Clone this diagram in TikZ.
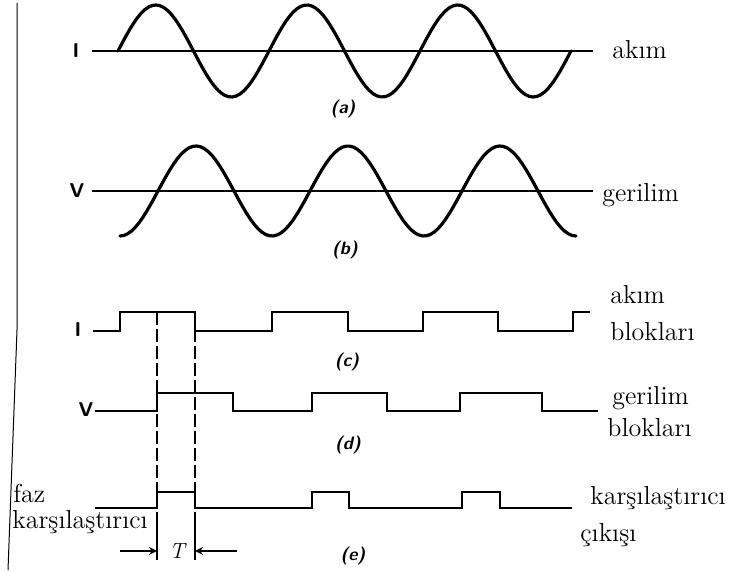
\documentclass[tikz,border=0pt]{standalone}
\usepackage{fontspec}
\tikzset{
  wave/.style={line width=1.6pt, line cap=round},
  pulse/.style={line width=1.1pt, line join=miter},
  axisline/.style={line width=0.9pt},
  guide/.style={line width=0.9pt, dash pattern=on 6.5pt off 2pt},
  lbl/.style={anchor=west, inner sep=0pt, font=\fontsize{13}{14}\selectfont},
  sig/.style={inner sep=0pt, font=\fontsize{10}{11}\sffamily\bfseries},
  panel/.style={inner sep=0pt, font=\fontsize{9}{10}\sffamily\bfseries\itshape}
}
\begin{document}
\begin{tikzpicture}[x=0.5pt, y=-0.5pt, >=stealth]
    \useasboundingbox (0,0) rectangle (735,572);
    % page edge
    \draw[line width=0.5pt] (17,3) -- (17,330) -- (8,570);

    % (a) current
    \begin{scope}
        \node[sig] (sigA) at (76,51) {I};
        \draw[axisline] (92,51) -- (593,51);
        \draw[wave] plot[domain=118:571, samples=120] (\x, {51 - 46*sin((\x-118)/151*360)});
        \node[lbl] (lblA) at (612,50) {akım};
        \node[panel] (capA) at (343,109) {(a)};
    \end{scope}

    % (b) voltage
    \begin{scope}
        \node[sig] (sigB) at (77,191) {V};
        \draw[axisline] (92,191) -- (593,191);
        \draw[wave] plot[domain=120:576, samples=120] (\x, {191 + 45*cos((\x-120)/152*360)});
        \node[lbl] (lblB) at (602,195) {gerilim};
        \node[panel] (capB) at (345,250) {(b)};
    \end{scope}

    % (c) current blocks
    \begin{scope}
        \node[sig] (sigC) at (78,330) {I};
        \draw[pulse] (93,331) -- (120,331) -- (120,312) -- (195,312) -- (195,331)
            -- (272,331) -- (272,312) -- (348,312) -- (348,331)
            -- (423,331) -- (423,312) -- (498,312) -- (498,331)
            -- (573,331) -- (573,312) -- (590,312);
        \node[lbl] (lblC1) at (610,295) {akım};
        \node[lbl] (lblC2) at (610,332) {blokları};
        \node[panel] (capC) at (347,362) {(c)};
    \end{scope}

    % (d) voltage blocks
    \begin{scope}
        \node[sig] (sigD) at (86,410) {V};
        \draw[pulse] (95,411) -- (157,411) -- (157,393) -- (233,393) -- (233,411)
            -- (312,411) -- (312,393) -- (387,393) -- (387,411)
            -- (460,411) -- (460,393) -- (542,393) -- (542,411) -- (598,411);
        \node[lbl] (lblD1) at (612,398) {gerilim};
        \node[lbl] (lblD2) at (607,428) {blokları};
        \node[panel] (capD) at (348,445) {(d)};
    \end{scope}

    % (e) comparator output
    \begin{scope}
        \draw[pulse] (95,508) -- (157,508) -- (157,492) -- (195,492) -- (195,508)
            -- (312,508) -- (312,492) -- (349,492) -- (349,508)
            -- (462,508) -- (462,492) -- (500,492) -- (500,508) -- (572,508);
        \node[lbl] (lblE1) at (590,498) {karşılaştırıcı};
        \node[lbl] (lblE2) at (580,535) {çıkışı};
        \node[lbl] (lblL1) at (13,493) {faz};
        \node[lbl] (lblL2) at (12,522) {karşılaştırıcı};
        \node[panel] (capE) at (353,556) {(e)};
    \end{scope}

    % overlap width T
    \coordinate (upL) at (157,312);
    \coordinate (upR) at (195,312);
    \coordinate (topL) at (157,492);
    \coordinate (topR) at (195,492);
    \coordinate (botL) at (157,560);
    \coordinate (botR) at (195,560);
    \coordinate (inL) at (157,551);
    \coordinate (inR) at (195,551);
    \coordinate (outL) at (120,551);
    \coordinate (outR) at (237,551);
    \draw[guide] (upL) -- (topL);
    \draw[guide] (upR) -- (topR);
    \draw[line width=0.9pt] (157,512) -- (botL);
    \draw[line width=0.9pt] (195,512) -- (botR);
    \draw[->, line width=0.8pt] (outL) -- (inL);
    \draw[->, line width=0.8pt] (outR) -- (inR);
    \node[inner sep=0pt, font=\fontsize{11}{12}\selectfont\itshape] (perT) at (177,551) {T};
\end{tikzpicture}
\end{document}
